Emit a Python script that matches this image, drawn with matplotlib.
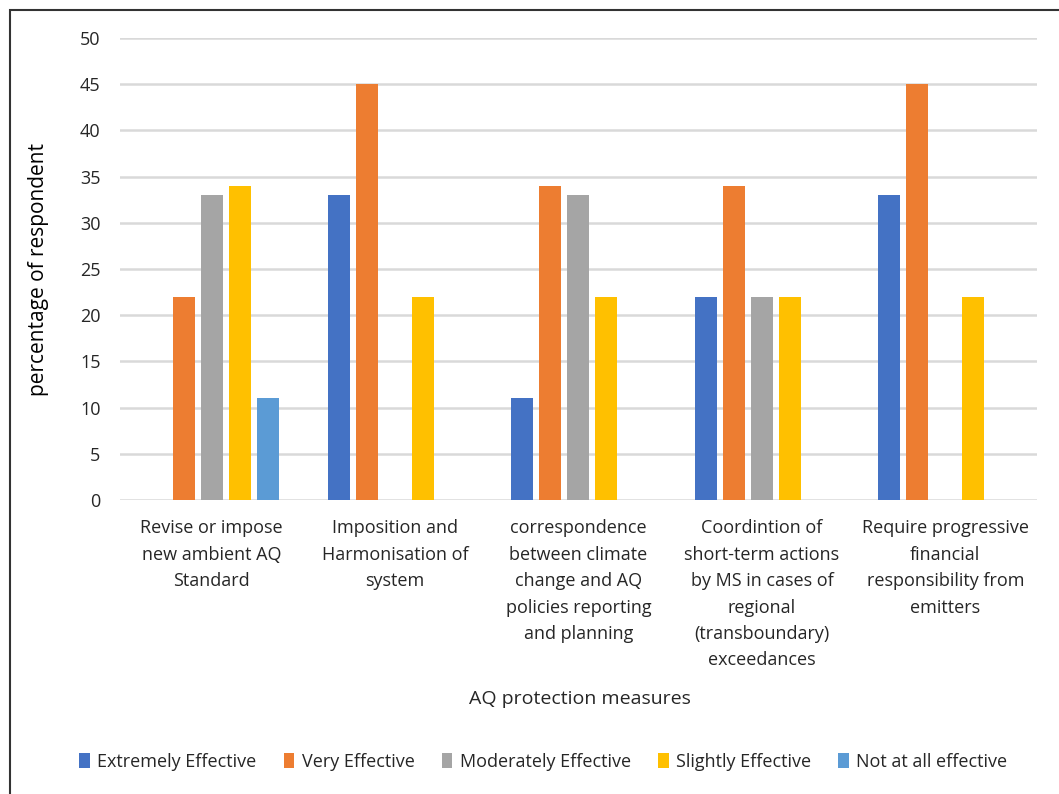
import numpy as np
import matplotlib.pyplot as plt
from matplotlib.patches import Rectangle

categories = [
    "Revise or impose\nnew ambient AQ\nStandard",
    "Imposition and\nHarmonisation of\nsystem",
    "correspondence\nbetween climate\nchange and AQ\npolicies reporting\nand planning",
    "Coordintion of\nshort-term actions\nby MS in cases of\nregional\n(transboundary)\nexceedances",
    "Require progressive\nfinancial\nresponsibility from\nemitters",
]
series = ["Extremely Effective", "Very Effective", "Moderately Effective",
          "Slightly Effective", "Not at all effective"]
extremely = [0, 33, 11, 22, 33]
very = [22, 45, 34, 34, 45]
moderately = [33, 0, 33, 22, 0]
slightly = [34, 22, 22, 22, 22]
not_at_all = [11, 0, 0, 0, 0]
values = [extremely, very, moderately, slightly, not_at_all]
colors = ["#4472C4", "#ED7D31", "#A5A5A5", "#FFC000", "#5B9BD5"]

plt.rcParams['font.family'] = ['Open Sans', 'DejaVu Sans']

fig = plt.figure(figsize=(10.59, 7.94), dpi=100)
ax = fig.add_axes([0.1133, 0.3703, 0.8659, 0.5818])

x = np.arange(len(categories))
step = 0.1527
width = 0.12
for i, (name, vals, c) in enumerate(zip(series, values, colors)):
    ax.bar(x + (i - 2) * step, vals, width, color=c, label=name, zorder=3)

ax.set_xlim(-0.5, len(categories) - 0.5)
ax.set_ylim(0, 50)
ax.set_yticks(range(0, 51, 5))
ax.yaxis.grid(True, color="#D9D9D9", linewidth=1.8, zorder=0)
for s in ax.spines.values():
    s.set_visible(False)
ax.tick_params(axis="both", length=0, labelsize=13, colors="#262626")
ax.tick_params(axis="y", pad=14)
ax.set_xticks(x)
ax.set_xticklabels(categories, linespacing=1.6, va="top")
ax.tick_params(axis="x", pad=14)

ax.set_ylabel("percentage of respondent", fontsize=15, color="black", labelpad=22)
fig.text(0.548, 1 - 699 / 794, "AQ protection measures", fontsize=14,
         ha="center", va="center", color="#262626")

fig.legend(loc="center", bbox_to_anchor=(0.513, 1 - 762 / 794), ncol=5,
           frameon=False, fontsize=13, handlelength=0.6, handleheight=0.9,
           handletextpad=0.4, columnspacing=1.5, labelcolor="#262626")

fig.patches.append(Rectangle((10 / 1059, -0.05), 1.2, 1 - 10 / 794 + 0.05,
                             transform=fig.transFigure, fill=False,
                             edgecolor="#333333", linewidth=1.5))

fig.savefig("out.png", dpi=100)
